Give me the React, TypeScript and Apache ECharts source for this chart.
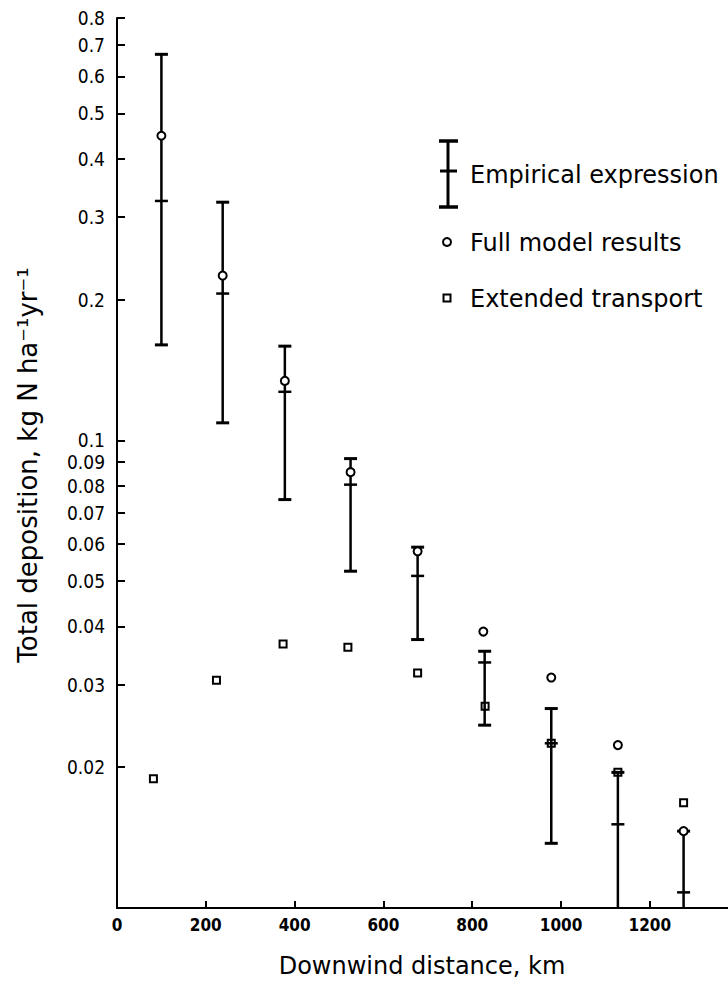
import React, { useEffect, useRef } from "react";
import * as echarts from "echarts";

// Y axis ticks (kg N ha-1 yr-1), drawn on a log10 scale
const yTickValues = [0.8, 0.7, 0.6, 0.5, 0.4, 0.3, 0.2, 0.1, 0.09, 0.08, 0.07, 0.06, 0.05, 0.04, 0.03, 0.02];
const yTickLabels = ["0.8", "0.7", "0.6", "0.5", "0.4", "0.3", "0.2", "0.1", "0.09", "0.08", "0.07", "0.06", "0.05", "0.04", "0.03", "0.02"];
const xTickValues = [0, 200, 400, 600, 800, 1000, 1200];

// Empirical expression: range (low / high) and central value
const empiricalX = [100, 238, 378, 526, 677, 828, 978, 1128, 1276];
const empiricalLow = [0.16, 0.109, 0.0747, 0.0525, 0.0375, 0.0246, 0.01375, 0.01, 0.01];
const empiricalMid = [0.325, 0.206, 0.127, 0.0804, 0.0513, 0.0335, 0.0225, 0.0151, 0.0108];
const empiricalHigh = [0.669, 0.323, 0.159, 0.0914, 0.0591, 0.0354, 0.0267, 0.0195, 0.0146];

// Full model results (circles)
const fullModelX = [100, 238, 378, 526, 677, 825, 978, 1128, 1276];
const fullModelY = [0.448, 0.225, 0.134, 0.0855, 0.0579, 0.039, 0.0311, 0.0223, 0.0146];

// Extended transport (squares)
const extendedX = [82, 224, 374, 520, 677, 829, 978, 1128, 1276];
const extendedY = [0.0189, 0.0307, 0.0367, 0.0361, 0.0318, 0.027, 0.0225, 0.0195, 0.0168];

const Y_MIN = 0.01;
const Y_MAX = 0.8;
const X_MAX = 1376;

const lg = (v: number) => Math.log10(v);
const FONT = "'DejaVu Sans', sans-serif";

export default function App() {
  const ref = useRef<HTMLDivElement>(null);

  useEffect(() => {
    if (!ref.current) return;
    const chart = echarts.init(ref.current, null, { renderer: "svg" });

    const yTickLogs = yTickValues.map(lg);
    const labelFor = (v: number) => {
      const i = yTickLogs.findIndex((t) => Math.abs(t - v) < 1e-6);
      return i >= 0 ? yTickLabels[i] : "";
    };

    const barData = empiricalX.map((x, i) => [x, lg(empiricalLow[i]), lg(empiricalMid[i]), lg(empiricalHigh[i])]);
    const circleData = fullModelX.map((x, i) => [x, lg(fullModelY[i])]);
    const squareData = extendedX.map((x, i) => [x, lg(extendedY[i])]);

    const black = "#000";

    const option: any = {
      animation: false,
      backgroundColor: "#fff",
      grid: { left: 117, right: 0, top: 18, bottom: 82, containLabel: false, outerBoundsMode: "none" },
      xAxis: {
        type: "value",
        min: 0,
        max: X_MAX,
        axisLine: { show: true, lineStyle: { color: black, width: 2 } },
        axisTick: { show: true, inside: true, length: 7, customValues: xTickValues, lineStyle: { color: black, width: 2 } },
        axisLabel: {
          customValues: xTickValues,
          margin: 8,
          color: black,
          fontFamily: "'Liberation Sans Narrow', 'DejaVu Sans Condensed', sans-serif",
          fontWeight: "bold",
          fontSize: 17,
          formatter: (v: number) => String(v),
        },
        splitLine: { show: false },
      },
      yAxis: {
        type: "value",
        min: lg(Y_MIN),
        max: lg(Y_MAX),
        axisLine: { show: true, lineStyle: { color: black, width: 2 } },
        axisTick: { show: true, inside: true, length: 8, customValues: yTickLogs, lineStyle: { color: black, width: 2 } },
        axisLabel: {
          customValues: yTickLogs,
          margin: 12,
          color: black,
          fontFamily: "'DejaVu Sans Condensed', 'DejaVu Sans', sans-serif",
          fontSize: 19,
          lineHeight: 17,
          formatter: (v: number) => labelFor(v),
        },
        splitLine: { show: false },
      },
      series: [
        {
          name: "Extended transport",
          type: "scatter",
          z: 2,
          symbol: "rect",
          symbolSize: 7,
          itemStyle: { color: "#fff", borderColor: black, borderWidth: 2, opacity: 1 },
          data: squareData,
        },
        {
          name: "Empirical expression",
          type: "custom",
          z: 3,
          encode: { x: 0, y: [1, 2, 3] },
          data: barData,
          renderItem: (params: any, api: any) => {
            const x = api.value(0);
            const lo = api.value(1);
            const mid = api.value(2);
            const hi = api.value(3);
            const pLo = api.coord([x, lo]);
            const pMid = api.coord([x, mid]);
            const pHi = api.coord([x, hi]);
            const cap = 6.5;
            const tick = 6.5;
            const children: any[] = [
              { type: "line", shape: { x1: pLo[0], y1: pLo[1], x2: pHi[0], y2: pHi[1] }, style: { stroke: black, lineWidth: 2.5 } },
              { type: "line", shape: { x1: pHi[0] - cap, y1: pHi[1], x2: pHi[0] + cap, y2: pHi[1] }, style: { stroke: black, lineWidth: 3 } },
              { type: "line", shape: { x1: pMid[0] - tick, y1: pMid[1], x2: pMid[0] + tick, y2: pMid[1] }, style: { stroke: black, lineWidth: 2.5 } },
            ];
            if (lo > lg(Y_MIN) + 1e-9) {
              children.push({ type: "line", shape: { x1: pLo[0] - cap, y1: pLo[1], x2: pLo[0] + cap, y2: pLo[1] }, style: { stroke: black, lineWidth: 3 } });
            }
            return { type: "group", children };
          },
        },
        {
          name: "Full model results",
          type: "scatter",
          z: 4,
          symbol: "circle",
          symbolSize: 8,
          itemStyle: { color: "#fff", borderColor: black, borderWidth: 2, opacity: 1 },
          data: circleData,
        },
      ],
      graphic: [
        // y axis title
        {
          type: "text",
          x: 28,
          y: 465,
          rotation: Math.PI / 2,
          style: {
            text: "Total deposition, kg N ha\u207B\u00B9yr\u207B\u00B9",
            font: `26px ${FONT}`,
            fill: black,
            align: "center",
            verticalAlign: "middle",
          },
        },
        // x axis title
        {
          type: "text",
          x: 422,
          y: 966,
          style: {
            text: "Downwind distance, km",
            font: `24px ${FONT}`,
            fill: black,
            align: "center",
            verticalAlign: "middle",
          },
        },
        // legend: empirical expression
        { type: "line", shape: { x1: 448, y1: 141, x2: 448, y2: 207 }, style: { stroke: black, lineWidth: 3 } },
        { type: "line", shape: { x1: 439, y1: 141, x2: 458, y2: 141 }, style: { stroke: black, lineWidth: 3.5 } },
        { type: "line", shape: { x1: 439, y1: 207, x2: 458, y2: 207 }, style: { stroke: black, lineWidth: 3.5 } },
        { type: "line", shape: { x1: 440, y1: 171, x2: 457, y2: 171 }, style: { stroke: black, lineWidth: 3 } },
        {
          type: "text",
          x: 470,
          y: 175,
          style: { text: "Empirical expression", font: `24px ${FONT}`, fill: black, align: "left", verticalAlign: "middle" },
        },
        // legend: full model results
        { type: "circle", shape: { cx: 447, cy: 242, r: 4 }, style: { fill: "#fff", stroke: black, lineWidth: 2 } },
        {
          type: "text",
          x: 470,
          y: 243,
          style: { text: "Full model results", font: `24px ${FONT}`, fill: black, align: "left", verticalAlign: "middle" },
        },
        // legend: extended transport
        { type: "rect", shape: { x: 443.5, y: 294.5, width: 7, height: 7 }, style: { fill: "#fff", stroke: black, lineWidth: 2 } },
        {
          type: "text",
          x: 470,
          y: 299,
          style: { text: "Extended transport", font: `24px ${FONT}`, fill: black, align: "left", verticalAlign: "middle" },
        },
      ],
    };

    chart.setOption(option);
    return () => chart.dispose();
  }, []);

  return (
    <div
      ref={ref}
      style={{ position: "fixed", left: 0, top: 0, width: 728, height: 990, background: "#fff" }}
    />
  );
}
